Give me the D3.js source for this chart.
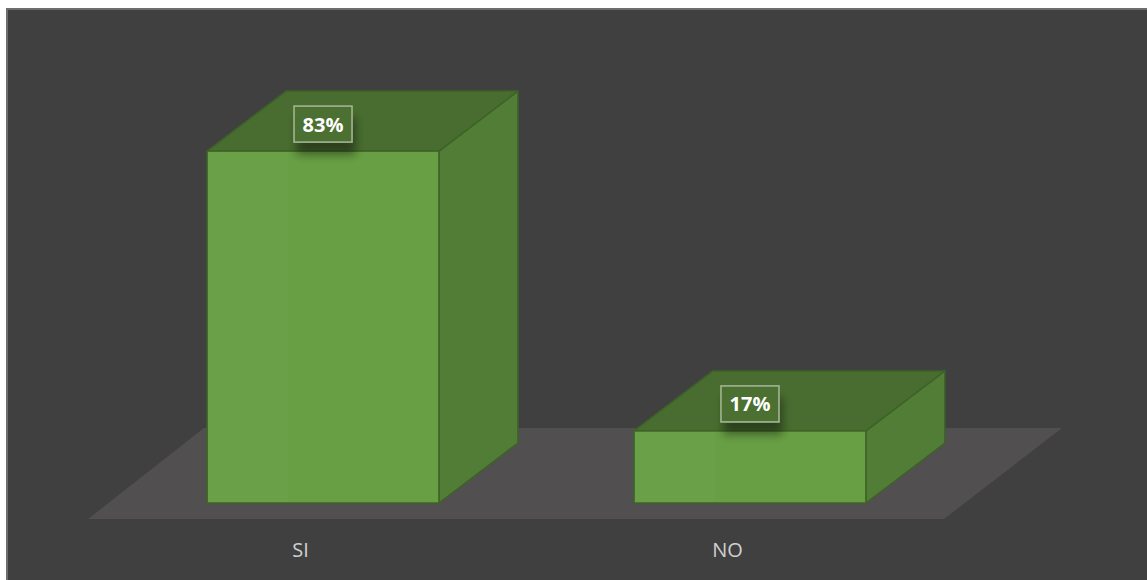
<!DOCTYPE html>
<html><head><meta charset="utf-8">
<script src="https://cdn.jsdelivr.net/npm/d3@7"></script>
<style>html,body{margin:0;padding:0;background:#fff;overflow:hidden}</style>
</head><body>
<svg id="c" width="1147" height="580"></svg>
<script>
const categories = ["SI", "NO"];
const values = [83, 17];
const valueLabels = ["83%", "17%"];

const svg = d3.select("#c");
const W = 1147, H = 580;

// chart area background with border
svg.append("rect").attr("x", 7).attr("y", 9).attr("width", W).attr("height", H)
  .attr("fill", "#404040").attr("stroke", "#6e6e6e").attr("stroke-width", 2);

const defs = svg.append("defs");
const f = defs.append("filter").attr("id", "sh").attr("x", "-50%").attr("y", "-50%").attr("width", "200%").attr("height", "250%");
f.append("feGaussianBlur").attr("in", "SourceAlpha").attr("stdDeviation", 5).attr("result", "b");
f.append("feOffset").attr("in", "b").attr("dx", 3).attr("dy", 12).attr("result", "o");
f.append("feComponentTransfer").attr("in", "o").attr("result", "oa")
  .append("feFuncA").attr("type", "linear").attr("slope", 0.4);
const fm = f.append("feMerge");
fm.append("feMergeNode").attr("in", "oa");
fm.append("feMergeNode").attr("in", "SourceGraphic");

// scales
const x = d3.scaleBand().domain(categories).range([12, 1061]).paddingInner(0.457).paddingOuter(0.457);
const y = d3.scaleLinear().domain([0, 100]).range([503, 79]);

// floor
const floorFront = 519, floorBack = 428;
svg.append("polygon")
  .attr("points", [[88, floorFront], [944, floorFront], [1062, floorBack], [204, floorBack]].map(p => p.join(",")).join(" "))
  .attr("fill", "#514f50");

const ddx = 79, ddy = -60;
const stroke = "#3e6326";

const g = svg.append("g");
categories.forEach((c, i) => {
  const x0 = x(c), x1 = x(c) + x.bandwidth();
  const yb = y(0), yt = y(values[i]);
  // right face
  g.append("polygon")
    .attr("points", [[x1, yb], [x1 + ddx, yb + ddy], [x1 + ddx, yt + ddy], [x1, yt]].map(p => p.join(",")).join(" "))
    .attr("fill", "#527d37").attr("stroke", stroke).attr("stroke-width", 1.5).attr("stroke-linejoin", "round");
  // top face
  g.append("polygon")
    .attr("points", [[x0, yt], [x1, yt], [x1 + ddx, yt + ddy], [x0 + ddx, yt + ddy]].map(p => p.join(",")).join(" "))
    .attr("fill", "#496d30").attr("stroke", stroke).attr("stroke-width", 1.5).attr("stroke-linejoin", "round");
  // front face
  g.append("rect").attr("x", x0).attr("y", yt).attr("width", x1 - x0).attr("height", yb - yt)
    .attr("fill", "#689f44").attr("stroke", stroke).attr("stroke-width", 1.5);
  // subtle reflection
  g.append("rect").attr("x", x0 + 1).attr("y", yt + 1).attr("width", 80).attr("height", yb - yt - 2)
    .attr("fill", "#ffffff").attr("opacity", 0.02);

  // label
  const cx = x0 + x.bandwidth() / 2, cy = yt - 27;
  const lg = svg.append("g");
  lg.append("rect").attr("x", cx - 29).attr("y", cy - 18).attr("width", 58).attr("height", 36)
    .attr("fill", "#4b6f32").attr("stroke", "#a6b898").attr("stroke-width", 1.5)
    .attr("filter", "url(#sh)");
  lg.append("text").attr("x", cx).attr("y", cy + 7.5).attr("text-anchor", "middle")
    .attr("font-family", "'Open Sans', 'Liberation Sans', sans-serif").attr("font-weight", "bold")
    .attr("font-size", 20).attr("fill", "#ffffff").text(valueLabels[i]);

  // category label
  svg.append("text").attr("x", cx - 22.5).attr("y", 557).attr("text-anchor", "middle")
    .attr("font-family", "'Open Sans', 'Liberation Sans', sans-serif")
    .attr("font-size", 20).attr("fill", "#d0d0d0").text(c);
});
</script>
</body></html>
